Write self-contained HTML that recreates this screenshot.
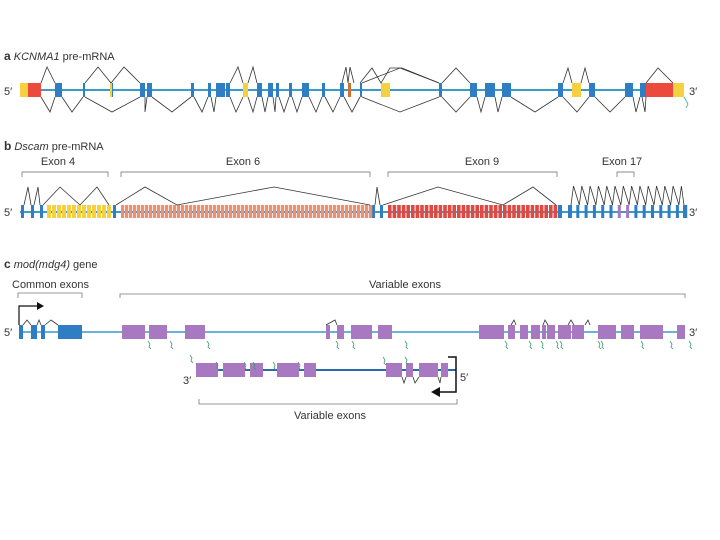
<!DOCTYPE html>
<html><head><meta charset="utf-8"><style>
html,body{margin:0;padding:0;background:#fff;}
svg{display:block;font-family:"Liberation Sans",sans-serif;}
</style></head><body>
<svg id="s" width="720" height="540" viewBox="0 0 720 540" xmlns="http://www.w3.org/2000/svg">
<g font-size="11" fill="#333">
<text x="4" y="60"><tspan font-weight="bold" font-size="12">a</tspan>  <tspan font-style="italic">KCNMA1</tspan> pre-mRNA</text>
<text x="4" y="150"><tspan font-weight="bold" font-size="12">b</tspan>  <tspan font-style="italic">Dscam</tspan> pre-mRNA</text>
<text x="4" y="268"><tspan font-weight="bold" font-size="12">c</tspan>  <tspan font-style="italic">mod(mdg4)</tspan> gene</text>
<text x="4" y="95">5′</text><text x="689" y="95">3′</text>
<text x="4" y="216">5′</text><text x="689" y="216">3′</text>
<text x="4" y="336">5′</text><text x="689" y="336">3′</text>
<text x="183" y="384">3′</text><text x="460" y="381">5′</text>
<text x="58" y="165" text-anchor="middle">Exon 4</text>
<text x="243" y="165" text-anchor="middle">Exon 6</text>
<text x="482" y="165" text-anchor="middle">Exon 9</text>
<text x="622" y="165" text-anchor="middle">Exon 17</text>
<text x="12" y="288">Common exons</text>
<text x="405" y="288" text-anchor="middle">Variable exons</text>
<text x="330" y="419" text-anchor="middle">Variable exons</text>
</g>
<g id="g" stroke-linejoin="miter"></g>
</svg>
<script>
const g=document.getElementById('g');let h='';
const B='#2f7ec4',Y='#f5d040',R='#ec4a3c',O='#ee9070',RD='#dc4a44',P='#a878c0',L='#3a9ac8';
function r(x1,x2,y1,y2,c,st){h+=`<rect x="${x1}" y="${y1}" width="${x2-x1}" height="${y2-y1}" fill="${c}"${st?` stroke="${st}" stroke-width="0.6"`:''}/>`;}
function pl(p,c='#333',w=0.8){h+=`<polyline points="${p}" fill="none" stroke="${c}" stroke-width="${w}"/>`;}
// panel a
h+=`<line x1="20" y1="90" x2="684" y2="90" stroke="${L}" stroke-width="2"/>`;
r(20,28,83,97,Y);r(28,41,83,97,R);
[[55,62],[83,85],[111,113],[140,145],[147,152],[191,194],[208,211],[216,225],[226,230],[257,262],[268,273],[276,279],[289,292],[302,309],[322,325],[340,344],[360,362],[439,442],[470,477],[485,495],[502,511],[558,563],[589,595],[625,633],[640,646]].forEach(e=>r(e[0],e[1],83,97,B));
r(110,112,83,97,Y);r(243,248,83,97,Y);r(381,390,83,97,Y);r(572,581,83,97,Y);r(348,351,83,97,'#d07030');r(646,673,83,97,R);r(673,684,83,97,Y);
pl('41,83 47,67 55,83');pl('85,83 98,67 111,83');pl('111,83 124,67 140,83');pl('230,83 238,67 243,83');pl('248,83 253,67 257,83');
pl('342,83 346,67 348,83 350,67 354,83');pl('360,83 372,68 381,83 390,68 402,68 439,83');pl('362,83 400,68 439,83');
pl('442,83 456,68 470,83');pl('563,83 568,68 572,83');pl('581,83 585,68 589,83');pl('646,83 658,68 673,83');
pl('41,97 50,112 55,97');pl('62,97 72,112 83,97');pl('85,97 112,112 140,97');pl('145,97 145,112 147,97');pl('152,97 172,112 191,97');
pl('194,97 202,112 208,97');pl('211,97 214,112 216,97');pl('230,97 236,112 243,97');pl('248,97 253,112 257,97');pl('262,97 265,112 268,97');
pl('273,97 275,112 276,97');pl('279,97 284,112 289,97');pl('292,97 297,112 302,97');pl('309,97 316,112 322,97');pl('325,97 333,112 340,97');
pl('344,97 352,112 360,97');pl('362,97 400,112 439,97');pl('442,97 456,112 470,97');pl('477,97 481,112 485,97');pl('495,97 498,112 502,97');
pl('511,97 535,112 558,97');pl('563,97 577,112 589,97');pl('595,97 610,112 625,97');pl('633,97 636,112 640,97');pl('646,97 645,112 642,97');
pl('684,97 688,104 686,108','#3a9',0.8);
// panel b
h+=`<line x1="20" y1="212" x2="684" y2="212" stroke="${L}" stroke-width="2"/>`;
[[21,24],[31,34],[40,43],[113,116],[371,375],[380,383],[558,562],[568,572]].forEach(e=>r(e[0],e[1],205,218,B));
for(let x=47;x<109;x+=5)r(x,x+4,205,218,Y);
for(let x=121;x<370;x+=4)r(x,x+3.2,205,218,O);
for(let x=388;x<556;x+=4.6)r(x,x+3.6,205,218,RD);
for(let i=0;i<15;i++){let x=568+i*8.3;r(x,x+3,205,218,(i==6||i==7)?P:B);}
r(683,686,205,218,B);
pl('24,205 28,187 31,205');pl('34,205 38,187 40,205');pl('43,205 60,187 80,205 97,187 109,205');pl('116,205 145,187 177,205 274,187 370,205');
pl('375,205 377,187 380,205');pl('383,205 438,187 503,205 533,187 556,205');
let zz='';for(let i=0;i<14;i++){let x=571+i*8.3;zz+=`${x},205 ${x+2.5},186 `;}pl(zz+'684,205');
[[22,108],[121,370]].forEach(b=>pl(`${b[0]},177 ${b[0]},172 ${b[1]},172 ${b[1]},177`,'#666',0.7));
[[388,557],[617,634]].forEach(b=>pl(`${b[0]},177 ${b[0]},172 ${b[1]},172 ${b[1]},177`,'#666',0.7));
// panel c
pl('18,298 18,293 82,293 82,298','#777',0.8);pl('120,298 120,294 685,294 685,298','#777',0.8);pl('199,399 199,404 457,404 457,399','#777',0.8);
h+=`<line x1="20" y1="332" x2="684" y2="332" stroke="${L}" stroke-width="1.5"/>`;
r(19,23,325,339,B);r(31,37,325,339,B);r(41,45,325,339,B);r(58,82,325,339,B);
pl('19,325 19,306 40,306','#111',1.2);h+=`<polygon points="37,302 44,306 37,310" fill="#111"/>`;
pl('23,325 27,320 31,325');pl('37,325 39,320 41,325');pl('45,325 51,320 58,325');
[[122,145],[149,167],[185,205],[326,330],[337,344],[351,372],[378,392],[479,504],[508,515],[520,528],[531,540],[542,546],[547,555],[558,571],[572,584],[598,616],[621,626],[621,634],[640,663],[677,685]].forEach(e=>r(e[0],e[1],325,339,P));
h+=`<line x1="196" y1="370" x2="456" y2="370" stroke="#2a6aa8" stroke-width="2"/>`;
[[196,218],[223,245],[250,263],[277,299],[304,316],[386,402],[406,413],[419,438],[441,448]].forEach(e=>r(e[0],e[1],363,377,P));
pl('448,357 456,357 456,392 438,392','#111',1.5);h+=`<polygon points="431,392 440,387 440,397" fill="#111"/>`;
pl('402,377 404,383 406,377');pl('413,377 415,383 419,377');pl('438,377 440,383 441,377');
pl('326,325 335,320 337,325');pl('511,325 514,320 516,325');pl('543,325 545,320 548,325');pl('568,325 571,320 574,325');pl('585,325 588,320 590,325');
const sq=[[148,341],[170,341],[207,341],[336,341],[352,341],[405,341],[505,341],[529,341],[541,341],[556,341],[560,341],[598,341],[601,341],[641,341],[670,341],[689,341],[216,362],[244,362],[253,362],[273,362],[298,362],[383,357],[405,357],[190,355]];
sq.forEach(p=>{let x=p[0],y=p[1];pl(`${x},${y} ${x+2},${y+3} ${x+1},${y+6} ${x+3},${y+8}`,'#3a9a6a',0.8);});
g.innerHTML=h;
</script>
</body></html>
